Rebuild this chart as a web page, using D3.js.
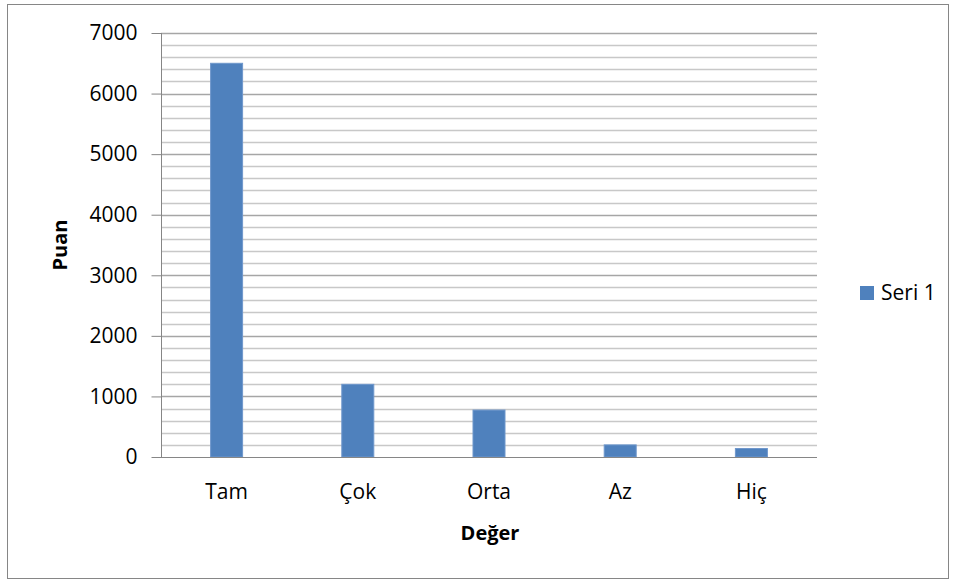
<!DOCTYPE html>
<html>
<head>
<meta charset="utf-8">
<script src="https://cdn.jsdelivr.net/npm/d3@7"></script>
<style>
body { margin: 0; background: #fff; }
text { font-family: "Open Sans", sans-serif; fill: #000; }
</style>
</head>
<body>
<div id="container"></div>
<script>
var categories = ["Tam", "Çok", "Orta", "Az", "Hiç"];
var values = [6500, 1200, 775, 200, 140];
var yTicks = [0, 1000, 2000, 3000, 4000, 5000, 6000, 7000];
var seriesName = "Seri 1";

var WIDTH = 956, HEIGHT = 582;
var PLOT_L = 161, PLOT_R = 817, PLOT_T = 33, PLOT_B = 457;
var BAR_W = 32;

var svg = d3.select("#container").append("svg")
    .attr("width", WIDTH)
    .attr("height", HEIGHT);

// outer frame
svg.append("rect")
    .attr("x", 7.5).attr("y", 4.5)
    .attr("width", 941).attr("height", 574)
    .attr("fill", "#fff")
    .attr("stroke", "#868686");

var x = d3.scaleBand().domain(categories).range([PLOT_L, PLOT_R]);
var y = d3.scaleLinear().domain([0, 7000]).range([PLOT_B, PLOT_T]);

// minor gridlines every 200
var minor = d3.range(200, 7001, 200).filter(function(v){ return v % 1000 != 0; });
svg.append("g").selectAll("line")
    .data(minor).enter().append("line")
    .attr("x1", PLOT_L).attr("x2", PLOT_R)
    .attr("y1", function(d){ return Math.round(y(d)) + 0.5; })
    .attr("y2", function(d){ return Math.round(y(d)) + 0.5; })
    .attr("stroke", "#c8c8c8")
    .attr("stroke-width", 1.3);

svg.append("g").selectAll("line")
    .data(yTicks.slice(1)).enter().append("line")
    .attr("x1", PLOT_L).attr("x2", PLOT_R)
    .attr("y1", function(d){ return Math.round(y(d)) + 0.5; })
    .attr("y2", function(d){ return Math.round(y(d)) + 0.5; })
    .attr("stroke", "#a6a6a6")
    .attr("stroke-width", 1.3);

// bars
svg.append("g").selectAll("rect")
    .data(values).enter().append("rect")
    .attr("x", function(d, i){ return x(categories[i]) + x.bandwidth() / 2 - BAR_W / 2; })
    .attr("y", function(d){ return y(d); })
    .attr("width", BAR_W)
    .attr("height", function(d){ return PLOT_B - y(d); })
    .attr("fill", "#4f81bd")
    .attr("stroke", "#6f97cc")
    .attr("stroke-width", 1);

// y axis
var yAxis = d3.axisLeft(y).tickValues(yTicks).tickFormat(d3.format("d"))
    .tickSize(10).tickPadding(14);
var ya = svg.append("g")
    .attr("transform", "translate(" + (PLOT_L + 0.5) + ",0)")
    .call(yAxis);
ya.select(".domain").attr("stroke", "#868686").attr("d", "M0," + PLOT_T + "V" + PLOT_B);
ya.selectAll(".tick line").attr("stroke", "#868686");
ya.selectAll(".tick text")
    .style("font-size", "21px")
    .style("font-family", "'Open Sans', sans-serif");

// x axis
var xAxis = d3.axisBottom(x).tickSize(0).tickPadding(27);
var xa = svg.append("g")
    .attr("transform", "translate(0," + (PLOT_B + 0.5) + ")")
    .call(xAxis);
xa.select(".domain").attr("stroke", "#868686").attr("d", "M" + PLOT_L + ",0H" + PLOT_R);
xa.selectAll(".tick text")
    .style("font-size", "21px")
    .style("font-family", "'Open Sans', sans-serif");

// axis titles
svg.append("text")
    .attr("transform", "translate(67,245) rotate(-90)")
    .attr("text-anchor", "middle")
    .style("font-size", "20px")
    .style("font-weight", "bold")
    .text("Puan");

svg.append("text")
    .attr("x", 490).attr("y", 540)
    .attr("text-anchor", "middle")
    .style("font-size", "20px")
    .style("font-weight", "bold")
    .text("Değer");

// legend
svg.append("rect")
    .attr("x", 860).attr("y", 286)
    .attr("width", 14).attr("height", 14)
    .attr("fill", "#4f81bd");
svg.append("text")
    .attr("x", 881).attr("y", 300)
    .style("font-size", "21px")
    .text(seriesName);
</script>
</body>
</html>
